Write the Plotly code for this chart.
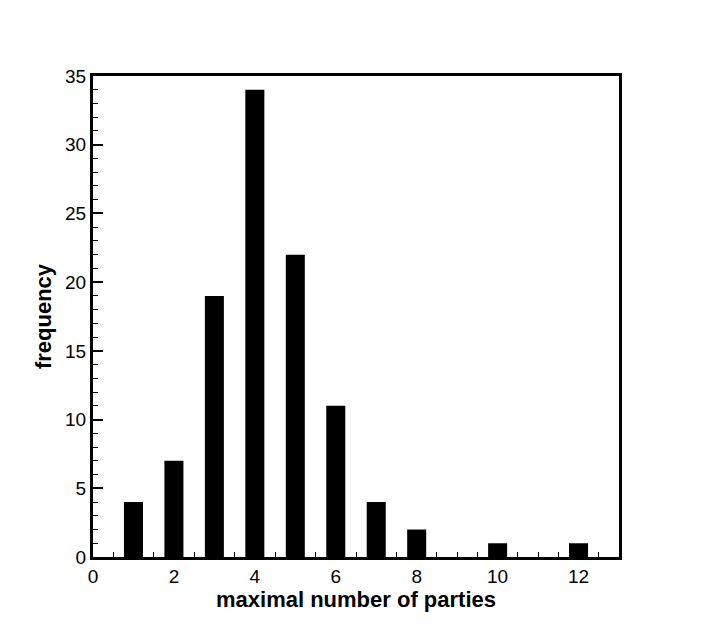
import plotly.graph_objects as go

parties = [1, 2, 3, 4, 5, 6, 7, 8, 9, 10, 11, 12]
frequency = [4, 7, 19, 34, 22, 11, 4, 2, 0, 1, 0, 1]

fig = go.Figure()
fig.add_trace(go.Bar(x=parties, y=frequency, width=0.47,
                     marker=dict(color="black", line=dict(width=0))))

font = dict(family="Liberation Sans, Arial, sans-serif", size=19, color="black")
fig.update_layout(
    width=706, height=628,
    margin=dict(l=85, r=95, t=68, b=79),
    paper_bgcolor="white", plot_bgcolor="white",
    showlegend=False,
    font=font,
)
fig.update_xaxes(
    range=[0, 13], tick0=0, dtick=2, ticks="inside", ticklen=10, tickwidth=2,
    tickcolor="black", showline=True, linewidth=3, linecolor="black", mirror=True,
    showgrid=False, zeroline=False,
    minor=dict(dtick=0.5, ticks="inside", ticklen=5, tickwidth=1, tickcolor="black", showgrid=False),
    title=dict(text="<b>maximal number of parties</b>", font=dict(size=22), standoff=0),
    tickfont=font,
)
fig.update_yaxes(
    range=[0, 35], tick0=0, dtick=5, ticks="inside", ticklen=10, tickwidth=2,
    tickcolor="black", showline=True, linewidth=3, linecolor="black", mirror=True,
    showgrid=False, zeroline=False,
    minor=dict(dtick=1, ticks="inside", ticklen=5, tickwidth=1, tickcolor="black", showgrid=False),
    title=dict(text="<b>frequency</b>", font=dict(size=22), standoff=8),
    tickfont=font,
)

fig.write_html("out.html")
